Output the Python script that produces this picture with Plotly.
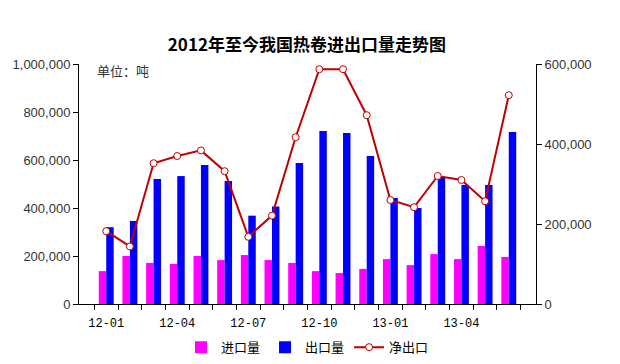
import plotly.graph_objects as go

months = ["12-01", "12-02", "12-03", "12-04", "12-05", "12-06", "12-07", "12-08", "12-09",
          "12-10", "12-11", "12-12", "13-01", "13-02", "13-03", "13-04", "13-05", "13-06"]
shown_labels = ["12-01", "12-04", "12-07", "12-10", "13-01", "13-04"]

imports = [137000, 200000, 171000, 167000, 200000, 183000, 204000, 183000, 171000,
           137000, 129000, 146000, 187000, 162000, 208000, 187000, 242000, 196000]
exports = [320000, 346000, 521000, 533000, 579000, 512000, 368000, 406000, 587000,
           721000, 712000, 617000, 442000, 400000, 529000, 496000, 496000, 717000]
net_exports = [182000, 144000, 352000, 370000, 384000, 332000, 168000, 221000, 417000,
               587000, 587000, 472000, 260000, 242000, 320000, 310000, 257000, 522000]

left_ticks = [0, 200000, 400000, 600000, 800000, 1000000]
right_ticks = [0, 200000, 400000, 600000]

fig = go.Figure()
fig.add_trace(go.Bar(x=months, y=imports, name="进口量", marker=dict(color="#FF00FF", line=dict(width=0))))
fig.add_trace(go.Bar(x=months, y=exports, name="出口量", marker=dict(color="#0000FF", line=dict(width=0))))
fig.add_trace(go.Scatter(x=months, y=net_exports, name="净出口", yaxis="y2", mode="lines+markers",
                         line=dict(color="#C00000", width=2),
                         marker=dict(symbol="circle", size=7, color="white",
                                     line=dict(color="#C00000", width=1))))

fig.update_layout(
    width=620, height=364,
    margin=dict(l=79, r=84, t=64, b=60, autoexpand=False),
    paper_bgcolor="white", plot_bgcolor="white",
    barmode="group", bargap=0.37, bargroupgap=0,
    title=dict(text="<b>2012年至今我国热卷进出口量走势图</b>", x=0.495, xanchor="center",
               y=1 - 45 / 364, yanchor="middle",
               font=dict(family="Noto Sans CJK SC, Liberation Sans", size=17, color="black")),
    font=dict(family="Liberation Sans, Arial", size=13, color="#333333"),
    xaxis=dict(type="category", tickvals=months,
               ticktext=[m if m in shown_labels else "" for m in months],
               tickson="boundaries", ticks="outside", ticklen=5, tickcolor="black",
               tickangle=0, automargin=False, ticklabelstandoff=8,
               showline=True, linecolor="black", linewidth=1, showgrid=False,
               tickfont=dict(family="Liberation Mono, DejaVu Sans Mono", size=12, color="black")),
    yaxis=dict(range=[0, 1000000], tickvals=left_ticks, tickformat=",d", automargin=False,
               ticks="outside", ticklen=5, tickcolor="black",
               showline=True, linecolor="black", linewidth=1, showgrid=False, zeroline=False,
               tickfont=dict(size=13, color="#333333")),
    yaxis2=dict(range=[0, 600000], tickvals=right_ticks, tickformat=",d", overlaying="y", side="right",
                automargin=False, ticks="outside", ticklen=5, tickcolor="black",
                showline=True, linecolor="black", linewidth=1, showgrid=False, zeroline=False,
                tickfont=dict(size=13, color="#333333")),
    legend=dict(orientation="h", x=0.5, xanchor="center", y=-0.18, yanchor="middle",
                font=dict(family="Noto Sans CJK SC", size=13, color="black"),
                itemwidth=30, tracegroupgap=0),
    annotations=[dict(text="单位：吨", xref="paper", yref="paper", x=0.035, y=0.975,
                      xanchor="left", yanchor="middle", showarrow=False,
                      font=dict(family="Noto Sans CJK SC", size=13, color="#333333"))],
)

fig.write_html("out.html", config={"displayModeBar": False},
               post_script="document.body.style.margin='0';")
